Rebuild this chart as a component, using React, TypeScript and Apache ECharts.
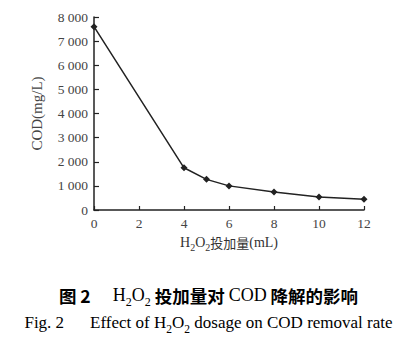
import React, { useEffect, useRef } from "react";
import * as echarts from "echarts";

const dosage = [0, 4, 5, 6, 8, 10, 12];
const cod = [7600, 1750, 1270, 1000, 750, 540, 450];
const yTicks = [0, 1000, 2000, 3000, 4000, 5000, 6000, 7000, 8000];
const xTicks = [0, 2, 4, 6, 8, 10, 12];

const serif = "'Liberation Serif', 'DejaVu Serif', serif";
const cjk = "'Noto Sans CJK SC', sans-serif";

function fmt(v: number) {
  if (v === 0) return "0";
  const s = String(v);
  return s.slice(0, s.length - 3) + " " + s.slice(-3);
}

export default function App() {
  const ref = useRef<HTMLDivElement>(null);
  useEffect(() => {
    if (!ref.current) return;
    const chart = echarts.init(ref.current, undefined, { renderer: "svg" });
    chart.setOption({
      animation: false,
      backgroundColor: "#fff",
      grid: { left: 94, right: 53, top: 17, bottom: 136 },
      xAxis: {
        type: "value",
        min: xTicks[0],
        max: xTicks[xTicks.length - 1],
        interval: 2,
        name: "{t|H}{s|2}{t|O}{s|2}{c|投加量}{t|(mL)}",
        nameLocation: "middle",
        nameGap: 23,
        nameTextStyle: {
          rich: {
            t: { fontFamily: serif, fontSize: 14, color: "#333", lineHeight: 16, verticalAlign: "bottom" },
            s: { fontFamily: serif, fontSize: 10, color: "#333", lineHeight: 16, verticalAlign: "bottom", padding: [0, 0, -3, 0] },
            c: { fontFamily: cjk, fontSize: 13, color: "#333", lineHeight: 16, verticalAlign: "bottom" },
          },
        },
        axisLine: { show: true, lineStyle: { color: "#222", width: 1.5 } },
        axisTick: { show: true, inside: true, length: 4, lineStyle: { color: "#222", width: 1.2 } },
        axisLabel: { fontFamily: serif, fontSize: 13.5, color: "#444", margin: 6 },
        splitLine: { show: false },
      },
      yAxis: {
        type: "value",
        min: yTicks[0],
        max: yTicks[yTicks.length - 1],
        interval: 1000,
        name: "COD(mg/L)",
        nameLocation: "middle",
        nameGap: 50,
        nameTextStyle: { fontFamily: serif, fontSize: 15, color: "#444" },
        axisLine: { show: true, lineStyle: { color: "#222", width: 1.5 } },
        axisTick: { show: true, inside: true, length: 5, lineStyle: { color: "#222", width: 1.2 } },
        axisLabel: {
          fontFamily: serif,
          fontSize: 13.5,
          color: "#444",
          margin: 6,
          formatter: (v: number) => fmt(v),
        },
        splitLine: { show: false },
      },
      series: [
        {
          type: "line",
          data: dosage.map((d, i) => [d, cod[i]]),
          symbol: "diamond",
          symbolSize: 7,
          itemStyle: { color: "#222" },
          lineStyle: { color: "#222", width: 1.5 },
        },
      ],
      graphic: [
        {
          type: "text",
          left: "center",
          top: 286,
          style: {
            text: "{b|图 2}{g|}{t|H}{s|2}{t|O}{s|2}{b| 投加量对 }{t|COD}{b| 降解的影响}",
            rich: {
              b: { fontFamily: cjk, fontSize: 17.5, fontWeight: "bold", color: "#111", lineHeight: 22, verticalAlign: "bottom" },
              g: { width: 22 },
              t: { fontFamily: serif, fontSize: 18, color: "#111", lineHeight: 22, verticalAlign: "bottom" },
              s: { fontFamily: serif, fontSize: 12, color: "#111", lineHeight: 22, verticalAlign: "bottom", padding: [0, 0, -4, 0] },
            },
          },
        },
        {
          type: "text",
          left: "center",
          top: 314,
          style: {
            text: "{t|Fig. 2}{g|}{t|Effect of H}{s|2}{t|O}{s|2}{t| dosage on COD removal rate}",
            rich: {
              g: { width: 26 },
              t: { fontFamily: serif, fontSize: 17, color: "#222", lineHeight: 22, verticalAlign: "bottom" },
              s: { fontFamily: serif, fontSize: 11.5, color: "#222", lineHeight: 22, verticalAlign: "bottom", padding: [0, 0, -4, 0] },
            },
          },
        },
      ],
    });
    return () => chart.dispose();
  }, []);
  return <div ref={ref} style={{ width: 417, height: 346, position: "absolute", left: 0, top: 0 }} />;
}
